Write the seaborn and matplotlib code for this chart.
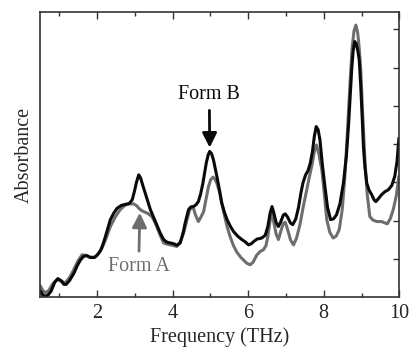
import matplotlib
matplotlib.use("Agg")
import matplotlib.pyplot as plt
import seaborn as sns
import pandas as pd

# Form B (black) spectrum
freq_b = [0.50, 0.56, 0.63, 0.70, 0.78, 0.88, 0.96, 1.04, 1.12, 1.18, 1.27, 1.38, 1.47, 1.56,
          1.64, 1.72, 1.82, 1.92, 2.00, 2.09, 2.16, 2.22, 2.29, 2.35, 2.44, 2.53, 2.64, 2.75,
          2.85, 2.93, 2.99, 3.04, 3.10, 3.15, 3.21, 3.28, 3.35, 3.41, 3.50, 3.58, 3.67, 3.76,
          3.85, 3.94, 4.03, 4.11, 4.20, 4.28, 4.33, 4.42, 4.48, 4.55, 4.62, 4.68, 4.74, 4.80,
          4.89, 4.94, 4.98, 5.03, 5.08, 5.17, 5.24, 5.30, 5.37, 5.44, 5.52, 5.61, 5.72, 5.83,
          5.92, 6.01, 6.08, 6.16, 6.23, 6.36, 6.45, 6.52, 6.58, 6.63, 6.68, 6.74, 6.80, 6.86,
          6.93, 6.98, 7.04, 7.12, 7.18, 7.26, 7.33, 7.40, 7.45, 7.52, 7.58, 7.64, 7.70, 7.75,
          7.80, 7.85, 7.90, 7.96, 8.03, 8.10, 8.18, 8.26, 8.34, 8.43, 8.52, 8.60, 8.66, 8.69,
          8.74, 8.78, 8.82, 8.86, 8.90, 8.94, 8.98, 9.02, 9.05, 9.09, 9.14, 9.20, 9.27, 9.33,
          9.38, 9.45, 9.53, 9.62, 9.71, 9.80, 9.88, 9.94, 9.99]
abs_b = [0.16, 0.06, 0.03, 0.06, 0.16, 0.40, 0.49, 0.44, 0.34, 0.34, 0.44, 0.62, 0.82, 0.98,
         1.07, 1.09, 1.04, 1.04, 1.10, 1.22, 1.40, 1.59, 1.83, 2.03, 2.20, 2.33, 2.40, 2.43,
         2.45, 2.55, 2.78, 3.00, 3.20, 3.12, 2.92, 2.70, 2.48, 2.29, 2.08, 1.90, 1.68, 1.51,
         1.44, 1.42, 1.40, 1.36, 1.42, 1.70, 1.94, 2.29, 2.36, 2.37, 2.42, 2.50, 2.70, 2.98,
         3.51, 3.72, 3.81, 3.75, 3.59, 3.16, 2.80, 2.46, 2.22, 2.03, 1.87, 1.72, 1.60, 1.51,
         1.45, 1.37, 1.40, 1.47, 1.52, 1.55, 1.62, 1.85, 2.20, 2.37, 2.20, 1.95, 1.85, 1.97,
         2.15, 2.18, 2.10, 1.94, 1.90, 2.05, 2.34, 2.75, 2.99, 3.20, 3.30, 3.49, 3.80, 4.20,
         4.46, 4.38, 4.11, 3.50, 2.90, 2.35, 2.03, 2.05, 2.16, 2.45, 2.98, 3.70, 4.55, 5.07,
         5.95, 6.45, 6.68, 6.62, 6.45, 6.20, 5.50, 4.65, 3.94, 3.40, 2.98, 2.80, 2.68, 2.55,
         2.50, 2.58, 2.68, 2.76, 2.81, 2.92, 3.16, 3.55, 4.16]

# Form A (grey) spectrum
freq_a = [0.50, 0.56, 0.63, 0.72, 0.82, 0.94, 1.04, 1.16, 1.27, 1.38, 1.49, 1.60, 1.70, 1.82,
          1.95, 2.04, 2.13, 2.24, 2.35, 2.48, 2.61, 2.72, 2.83, 2.97, 3.05, 3.10, 3.17, 3.23,
          3.33, 3.45, 3.52, 3.58, 3.67, 3.76, 3.85, 3.94, 4.03, 4.11, 4.20, 4.29, 4.38, 4.45,
          4.51, 4.56, 4.60, 4.68, 4.75, 4.82, 4.88, 4.95, 5.01, 5.07, 5.12, 5.17, 5.24, 5.30,
          5.37, 5.44, 5.52, 5.61, 5.70, 5.80, 5.87, 5.95, 6.05, 6.13, 6.23, 6.32, 6.40, 6.47,
          6.52, 6.58, 6.62, 6.67, 6.74, 6.80, 6.87, 6.93, 6.98, 7.05, 7.12, 7.20, 7.28, 7.37,
          7.46, 7.55, 7.62, 7.68, 7.75, 7.81, 7.87, 7.95, 8.02, 8.08, 8.16, 8.25, 8.33, 8.41,
          8.49, 8.56, 8.62, 8.69, 8.75, 8.80, 8.85, 8.90, 8.94, 8.98, 9.03, 9.09, 9.15, 9.22,
          9.30, 9.40, 9.53, 9.60, 9.68, 9.76, 9.84, 9.92, 9.99]
abs_a = [0.29, 0.18, 0.12, 0.18, 0.35, 0.46, 0.43, 0.38, 0.52, 0.72, 0.95, 1.11, 1.10, 1.05,
         1.05, 1.15, 1.29, 1.55, 1.85, 2.10, 2.29, 2.39, 2.44, 2.44, 2.39, 2.33, 2.27, 2.24,
         2.20, 2.11, 1.98, 1.85, 1.62, 1.42, 1.39, 1.37, 1.35, 1.33, 1.45, 1.68, 2.03, 2.28,
         2.37, 2.30, 2.16, 1.98, 2.10, 2.24, 2.55, 2.90, 3.08, 3.14, 3.08, 2.98, 2.75, 2.46,
         2.15, 1.85, 1.59, 1.35, 1.18, 1.05, 0.98, 0.90, 0.85, 0.92, 1.11, 1.20, 1.24, 1.35,
         1.59, 2.00, 2.24, 2.00, 1.65, 1.51, 1.75, 1.93, 1.96, 1.75, 1.50, 1.37, 1.55, 1.90,
         2.38, 2.81, 3.15, 3.42, 3.80, 3.98, 3.75, 3.33, 2.65, 2.03, 1.70, 1.55, 1.60, 1.77,
         2.30, 3.16, 4.20, 5.50, 6.50, 6.95, 7.11, 6.90, 6.50, 5.94, 4.80, 3.59, 2.70, 2.11,
         2.02, 1.98, 1.98, 1.95, 1.92, 2.05, 2.29, 2.65, 3.16]

x_major = [2, 4, 6, 8, 10]
x_minor = [1, 3, 5, 7, 9]
y_ticks = [1, 2, 3, 4, 5, 6, 7]

sns.set_theme(style="ticks")
plt.rcParams["font.family"] = ["Liberation Serif", "DejaVu Serif"]

fig = plt.figure(figsize=(4.11, 3.48), dpi=100)
ax = fig.add_axes([0.0985, 0.1455, 0.873, 0.821])

dfa = pd.DataFrame({"f": freq_a, "a": abs_a})
dfb = pd.DataFrame({"f": freq_b, "a": abs_b})
sns.lineplot(data=dfa, x="f", y="a", ax=ax, color="#6e6e6e", lw=2.2, estimator=None, sort=False)
sns.lineplot(data=dfb, x="f", y="a", ax=ax, color="#0a0a0a", lw=2.2, estimator=None, sort=False)
for l in ax.get_lines():
    l.set_solid_joinstyle("round")
    l.set_solid_capstyle("round")

ax.set_xlim(0.5, 10)
ax.set_ylim(0, 7.46)
ax.set_xticks(x_major)
ax.set_xticks(x_minor, minor=True)
ax.set_xticklabels([str(v) for v in x_major])
ax.set_yticks(y_ticks)
ax.set_yticklabels([])

ax.tick_params(axis="x", which="both", direction="in", top=True, bottom=True,
               width=1.0, color="#333333", labelsize=14.5, pad=5)
ax.tick_params(axis="x", which="major", length=5)
ax.tick_params(axis="x", which="minor", length=3)
ax.tick_params(axis="y", which="both", direction="in", left=False, right=True,
               length=4, width=1.0, color="#333333", labelleft=False)
for s in ax.spines.values():
    s.set_visible(True)
    s.set_linewidth(1.2)
    s.set_color("#333333")

ax.set_xlabel("Frequency (THz)", fontsize=14.5, labelpad=3)
ax.set_ylabel("Absorbance", fontsize=14.5, labelpad=5)

ax.annotate("Form B", xy=(4.98, 3.91), xytext=(4.97, 5.29), ha="center", va="center",
            fontsize=14.5, color="#0a0a0a",
            arrowprops=dict(arrowstyle="-|>,head_width=0.3,head_length=0.6", lw=2.0,
                            color="#0a0a0a", shrinkA=2, shrinkB=0))
ax.annotate("Form A", xy=(3.13, 2.21), xytext=(3.10, 0.80), ha="center", va="center",
            fontsize=14.5, color="#6e6e6e",
            arrowprops=dict(arrowstyle="-|>,head_width=0.3,head_length=0.6", lw=2.0,
                            color="#6e6e6e", shrinkA=2, shrinkB=0))

fig.savefig("out.png", dpi=100)
